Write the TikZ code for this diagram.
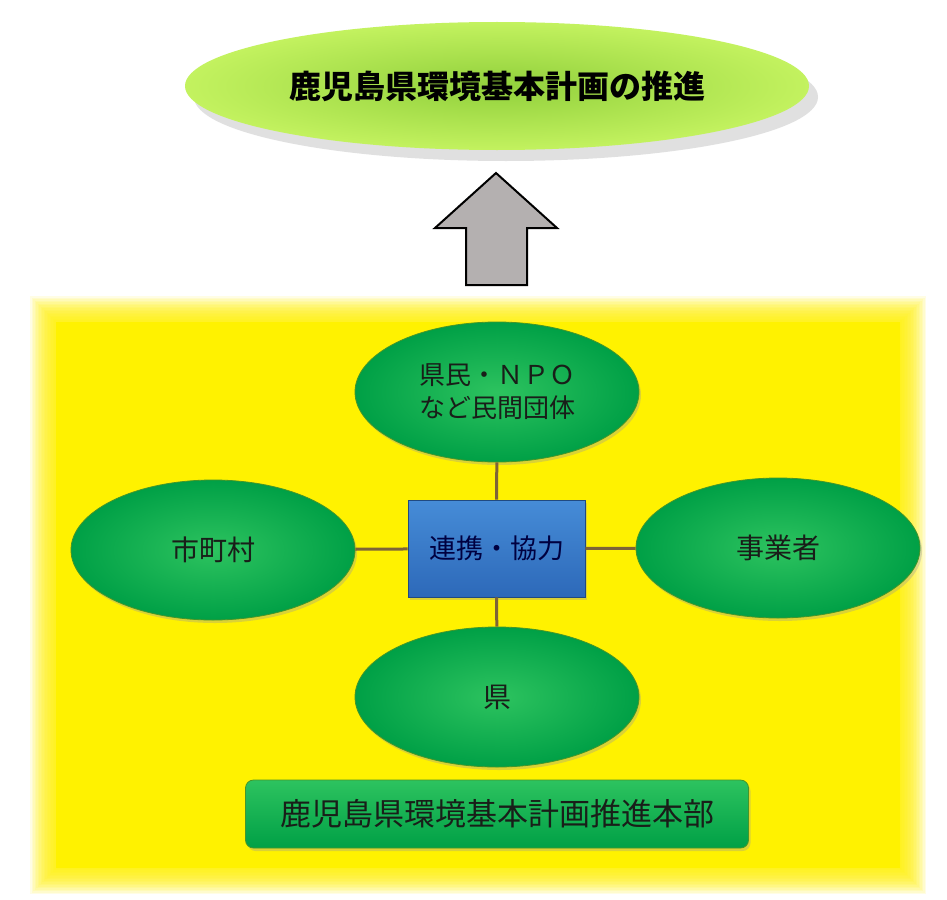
\documentclass[tikz,border=0pt]{standalone}
\usepackage{fontspec}
\newfontfamily\jp{Noto Sans CJK JP}
\usetikzlibrary{shapes.geometric,shadows}
\definecolor{lime1}{RGB}{145,208,60}
\definecolor{lime2}{RGB}{195,242,95}
\definecolor{grnA}{RGB}{45,195,95}
\definecolor{grnB}{RGB}{0,160,70}
\definecolor{grnE}{RGB}{70,150,40}
\definecolor{blueA}{RGB}{70,140,215}
\definecolor{blueB}{RGB}{45,105,185}
\definecolor{conn}{RGB}{125,100,55}
\definecolor{arrowgray}{RGB}{180,176,176}
\definecolor{txt}{RGB}{25,30,25}
\tikzset{
  goalnode/.style={ellipse, minimum width=624, minimum height=128, inner sep=0,
    inner color=lime1, outer color=lime2,
    drop shadow={shadow xshift=9pt, shadow yshift=-11pt, fill=gray!60, opacity=0.4},
    font=\jp\bfseries\fontsize{32}{36}\selectfont, text=black},
  actor/.style={ellipse, minimum width=284, minimum height=140, inner sep=0,
    draw=grnE, line width=0.8pt, inner color=grnA, outer color=grnB,
    drop shadow={shadow xshift=2pt, shadow yshift=-3pt, fill=black!40, opacity=0.35},
    font=\jp\fontsize{28}{34}\selectfont, text=txt, align=center},
  hub/.style={rectangle, minimum width=177, minimum height=97, inner sep=0,
    draw=blueB!70!black, line width=0.8pt, top color=blueA, bottom color=blueB,
    drop shadow={shadow xshift=2pt, shadow yshift=-3pt, fill=black!40, opacity=0.35},
    font=\jp\fontsize{27}{32}\selectfont, text=blue!25!black},
  hq/.style={rectangle, rounded corners=8pt, minimum width=503, minimum height=68, inner sep=0,
    draw=grnE, line width=0.8pt, top color=grnA, bottom color=grnB,
    drop shadow={shadow xshift=2pt, shadow yshift=-3pt, fill=black!40, opacity=0.35},
    font=\jp\fontsize{31}{36}\selectfont, text=txt},
  link/.style={draw=conn, line width=3pt},
  bigarrow/.style={draw=black, line width=2pt, fill=arrowgray, line join=miter}
}
\begin{document}
\begin{tikzpicture}[x=1pt,y=-1pt]
\useasboundingbox (0,0) rectangle (947,899);
\fill[white] (0,0) rectangle (947,899);
% yellow panel with soft edge
\foreach \i in {0,...,17}{
  \fill[yellow, opacity=0.1] (30+1.5*\i,296+1.5*\i) rectangle (926-1.5*\i,894-1.5*\i);
}
\fill[yellow] (56,322) rectangle (900,868);
% goal
\node[goalnode] (goal) at (497,86) {鹿児島県環境基本計画の推進};
% arrow
\draw[bigarrow] (496,173) -- (557,228) -- (527,228) -- (527,285) -- (466,285) -- (466,228) -- (435,228) -- cycle;
% actors
\node[hub] (c) at (496.5,548.5) {連携・協力};
\node[actor, font=\jp\fontsize{26}{33}\selectfont] (t) at (497,392) {県民・ＮＰＯ\\など民間団体};
\node[actor] (l) at (213,550) {市町村};
\node[actor] (r) at (778,548) {事業者};
\node[actor] (b) at (497,697) {県};
\draw[link] (t) -- (c);
\draw[link] (b) -- (c);
\draw[link] (l) -- (c);
\draw[link] (r) -- (c);
\node[hq] (h) at (497,814) {鹿児島県環境基本計画推進本部};
\end{tikzpicture}
\end{document}
